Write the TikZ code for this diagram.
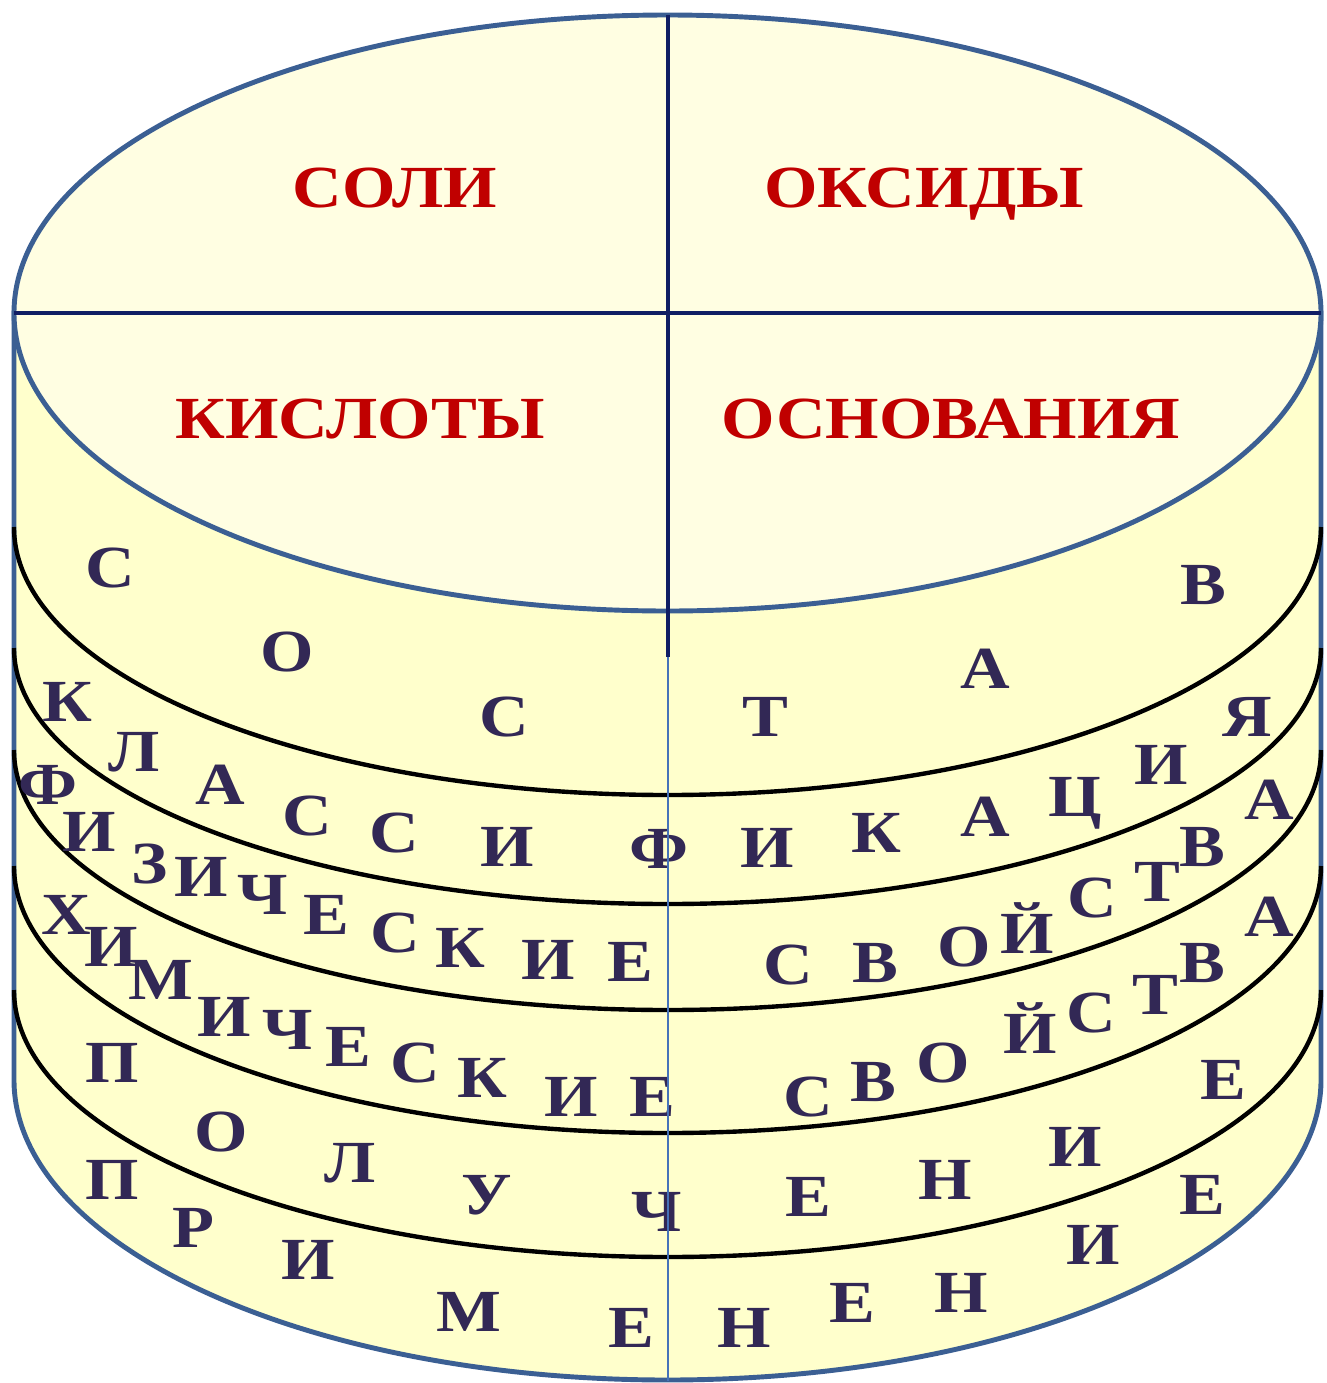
\documentclass[tikz,border=0pt]{standalone}
\usepackage{fontspec}
\setmainfont{Liberation Serif}
\newfontfamily\capfont{Liberation Serif}[FakeStretch=1.15]
\definecolor{rimblue}{RGB}{59,95,147}
\definecolor{axisnavy}{RGB}{16,30,100}
\definecolor{thinblue}{RGB}{70,115,185}
\definecolor{sidefill}{RGB}{255,255,204}
\definecolor{topfill}{RGB}{255,254,226}
\definecolor{headred}{RGB}{192,0,0}
\definecolor{lettink}{RGB}{50,40,85}
\tikzset{
  head/.style     = {font=\capfont\bfseries\fontsize{34}{34}\selectfont, text=headred,
                     inner sep=0pt, text height=22.5pt, text depth=0pt},
  lett/.style     = {font=\capfont\bfseries\fontsize{34}{34}\selectfont, text=lettink,
                     inner sep=0pt, text height=22.5pt, text depth=0pt},
  rim/.style      = {draw=rimblue, line width=2.8pt},
  band/.style     = {draw=black, line width=2.5pt},
  axis/.style     = {draw=axisnavy, line width=2.2pt},
  thinaxis/.style = {draw=thinblue, line width=1.1pt},
}

\begin{document}
\begin{tikzpicture}[x=0.02cm, y=-0.02cm]
  \useasboundingbox (0,0) rectangle (1326,1383);

  \coordinate (west)   at (14,313);
  \coordinate (east)   at (1321,313);
  \coordinate (north)  at (668,15);
  \coordinate (split)  at (668,657);
  \coordinate (south)  at (668,1381);

  \path[rim, fill=sidefill] (14,313) -- (14,1080)
    arc[start angle=180, end angle=0, x radius=653.5, y radius=300] -- (1321,313) -- cycle;
  \path[rim, fill=topfill] (667.5,313) ellipse[x radius=653.5, y radius=298];

  \draw[band] (14,527) arc[start angle=180, end angle=0, x radius=653.5, y radius=268];
  \draw[band] (14,648) arc[start angle=180, end angle=0, x radius=653.5, y radius=256];
  \draw[band] (14,750) arc[start angle=180, end angle=0, x radius=653.5, y radius=260];
  \draw[band] (14,866) arc[start angle=180, end angle=0, x radius=653.5, y radius=267];
  \draw[band] (14,990) arc[start angle=180, end angle=0, x radius=653.5, y radius=267];

  \draw[axis] (west) -- (east);
  \draw[axis] (north) -- (split);

  \node[head] (soli)  at (395,188) {СОЛИ};
  \node[head] (oksid) at (924,188) {ОКСИДЫ};
  \node[head] (kisl)  at (360,419) {КИСЛОТЫ};
  \node[head] (osnov) at (951,419) {ОСНОВАНИЯ};

  % состав
  \node[lett] (sost1) at (110,568)  {С};
  \node[lett] (sost2) at (287,652)  {О};
  \node[lett] (sost3) at (504,717)  {С};
  \node[lett] (sost4) at (765,717)  {Т};
  \node[lett] (sost5) at (985,669)  {А};
  \node[lett] (sost6) at (1203,585) {В};

  % классификация
  \node[lett] (klas1)  at (67,702)   {К};
  \node[lett] (klas2)  at (134,752)  {Л};
  \node[lett] (klas3)  at (220,785)  {А};
  \node[lett] (klas4)  at (307,816)  {С};
  \node[lett] (klas5)  at (394,833)  {С};
  \node[lett] (klas6)  at (507,847)  {И};
  \node[lett] (klas7)  at (659,849)  {Ф};
  \node[lett] (klas8)  at (767,848)  {И};
  \node[lett] (klas9)  at (876,833)  {К};
  \node[lett] (klas10) at (985,817)  {А};
  \node[lett] (klas11) at (1075,797) {Ц};
  \node[lett] (klas12) at (1161,765) {И};
  \node[lett] (klas13) at (1247,717) {Я};

  % физические свойства
  \node[lett] (fiz1)  at (48,785)   {Ф};
  \node[lett] (fiz2)  at (89,832)   {И};
  \node[lett] (fiz3)  at (150,864)  {З};
  \node[lett] (fiz4)  at (201,877)  {И};
  \node[lett] (fiz5)  at (263,895)  {Ч};
  \node[lett] (fiz6)  at (326,915)  {Е};
  \node[lett] (fiz7)  at (395,933)  {С};
  \node[lett] (fiz8)  at (460,948)  {К};
  \node[lett] (fiz9)  at (548,960)  {И};
  \node[lett] (fiz10) at (630,962)  {Е};
  \node[lett] (fiz11) at (788,965)  {С};
  \node[lett] (fiz12) at (875,963)  {В};
  \node[lett] (fiz13) at (964,947)  {О};
  \node[lett] (fiz14) at (1027,934) {Й};
  \node[lett] (fiz15) at (1092,898) {С};
  \node[lett] (fiz16) at (1157,882) {Т};
  \node[lett] (fiz17) at (1202,847) {В};
  \node[lett] (fiz18) at (1269,800) {А};

  % химические свойства
  \node[lett] (him1)  at (66,915)    {Х};
  \node[lett] (him2)  at (111,947)   {И};
  \node[lett] (him3)  at (161,980)   {М};
  \node[lett] (him4)  at (224,1017)  {И};
  \node[lett] (him5)  at (288,1030)  {Ч};
  \node[lett] (him6)  at (348,1047)  {Е};
  \node[lett] (him7)  at (415,1063)  {С};
  \node[lett] (him8)  at (482,1078)  {К};
  \node[lett] (him9)  at (571,1097)  {И};
  \node[lett] (him10) at (652,1097)  {Е};
  \node[lett] (him11) at (808,1097)  {С};
  \node[lett] (him12) at (873,1082)  {В};
  \node[lett] (him13) at (943,1063)  {О};
  \node[lett] (him14) at (1030,1034) {Й};
  \node[lett] (him15) at (1091,1013) {С};
  \node[lett] (him16) at (1155,995)  {Т};
  \node[lett] (him17) at (1202,963)  {В};
  \node[lett] (him18) at (1269,917)  {А};

  % получение
  \node[lett] (pol1) at (112,1063)  {П};
  \node[lett] (pol2) at (221,1132)  {О};
  \node[lett] (pol3) at (350,1163)  {Л};
  \node[lett] (pol4) at (487,1195)  {У};
  \node[lett] (pol5) at (657,1212)  {Ч};
  \node[lett] (pol6) at (808,1197)  {Е};
  \node[lett] (pol7) at (945,1180)  {Н};
  \node[lett] (pol8) at (1075,1147) {И};
  \node[lett] (pol9) at (1223,1080) {Е};

  % применение
  \node[lett] (prim1)  at (112,1180)  {П};
  \node[lett] (prim2)  at (193,1228)  {Р};
  \node[lett] (prim3)  at (308,1260)  {И};
  \node[lett] (prim4)  at (469,1312)  {М};
  \node[lett] (prim5)  at (631,1328)  {Е};
  \node[lett] (prim6)  at (744,1328)  {Н};
  \node[lett] (prim7)  at (852,1303)  {Е};
  \node[lett] (prim8)  at (961,1293)  {Н};
  \node[lett] (prim9)  at (1093,1245) {И};
  \node[lett] (prim10) at (1202,1195) {Е};

  \draw[thinaxis] (split) -- (south);
\end{tikzpicture}
\end{document}
